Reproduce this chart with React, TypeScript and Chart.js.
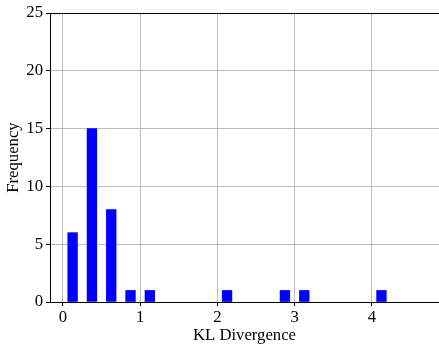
import React, { useEffect, useRef } from "react";
import { Chart, registerables } from "chart.js";

Chart.register(...registerables);

const binCenters = [0.125, 0.375, 0.625, 0.875, 1.125, 2.125, 2.875, 3.125, 4.125];
const frequencies = [6, 15, 8, 1, 1, 1, 1, 1, 1];
const xTickValues = [0, 1, 2, 3, 4];
const yTickValues = [0, 5, 10, 15, 20, 25];

const FONT = "'Liberation Serif', 'Times New Roman', serif";
const FS = 16.7;

Chart.defaults.font.family = FONT;
Chart.defaults.font.size = FS;
Chart.defaults.color = "#000";

const topSpine = {
  id: "topSpine",
  afterDraw(chart: any) {
    const { ctx, chartArea } = chart;
    ctx.save();
    ctx.strokeStyle = "#000";
    ctx.lineWidth = 1;
    ctx.beginPath();
    ctx.moveTo(chartArea.left, chartArea.top + 0.5);
    ctx.lineTo(chartArea.right, chartArea.top + 0.5);
    ctx.stroke();
    ctx.restore();
  },
};

export default function App() {
  const ref = useRef<HTMLCanvasElement>(null);
  useEffect(() => {
    document.body.style.margin = "0";
    const chart = new Chart(ref.current!, {
      type: "bar",
      data: {
        datasets: [
          {
            data: binCenters.map((x, i) => ({ x, y: frequencies[i] })),
            backgroundColor: "#0000ff",
            borderWidth: 0,
            barThickness: 9.7,
          } as any,
        ],
      },
      options: {
        animation: false,
        responsive: false,
        maintainAspectRatio: false,
        layout: { padding: { top: 9, right: 0, left: 0, bottom: 0 } },
        plugins: { legend: { display: false }, tooltip: { enabled: false } },
        scales: {
          x: {
            type: "linear",
            min: -0.168,
            max: 4.87,
            offset: false,
            afterFit: (s: any) => {
              s.height = 45;
            },
            afterBuildTicks: (s: any) => {
              s.ticks = xTickValues.map((v) => ({ value: v }));
            },
            ticks: {
              includeBounds: false,
              stepSize: 1,
              color: "#000",
              padding: 2,
              font: { family: FONT, size: FS },
              maxRotation: 0,
              callback: (v: any) => String(v),
            },
            grid: {
              offset: false,
              color: "#bcbcbc",
              lineWidth: 1,
              tickColor: "#000",
              tickLength: 4,
              drawTicks: true,
            },
            border: { display: true, color: "#000", width: 1 },
            title: {
              display: true,
              text: "KL Divergence",
              color: "#000",
              font: { family: FONT, size: FS },
              padding: { top: 0, bottom: 1 },
            },
          },
          y: {
            type: "linear",
            min: 0,
            max: 25,
            afterFit: (s: any) => {
              s.width = 50;
            },
            afterBuildTicks: (s: any) => {
              s.ticks = yTickValues.map((v) => ({ value: v }));
            },
            ticks: {
              stepSize: 5,
              color: "#000",
              padding: 3,
              font: { family: FONT, size: FS },
            },
            grid: {
              color: "#bcbcbc",
              lineWidth: 1,
              tickColor: "#000",
              tickLength: 4,
            },
            border: { display: true, color: "#000", width: 1 },
            title: {
              display: true,
              text: "Frequency",
              color: "#000",
              font: { family: FONT, size: FS },
              padding: 4,
            },
          },
        },
      },
      plugins: [topSpine],
    });
    return () => chart.destroy();
  }, []);
  return (
    <div style={{ position: "fixed", left: 0, top: 0, width: 439, height: 347, background: "#fff" }}>
      <canvas ref={ref} width={439} height={347} style={{ width: 439, height: 347 }} />
    </div>
  );
}
